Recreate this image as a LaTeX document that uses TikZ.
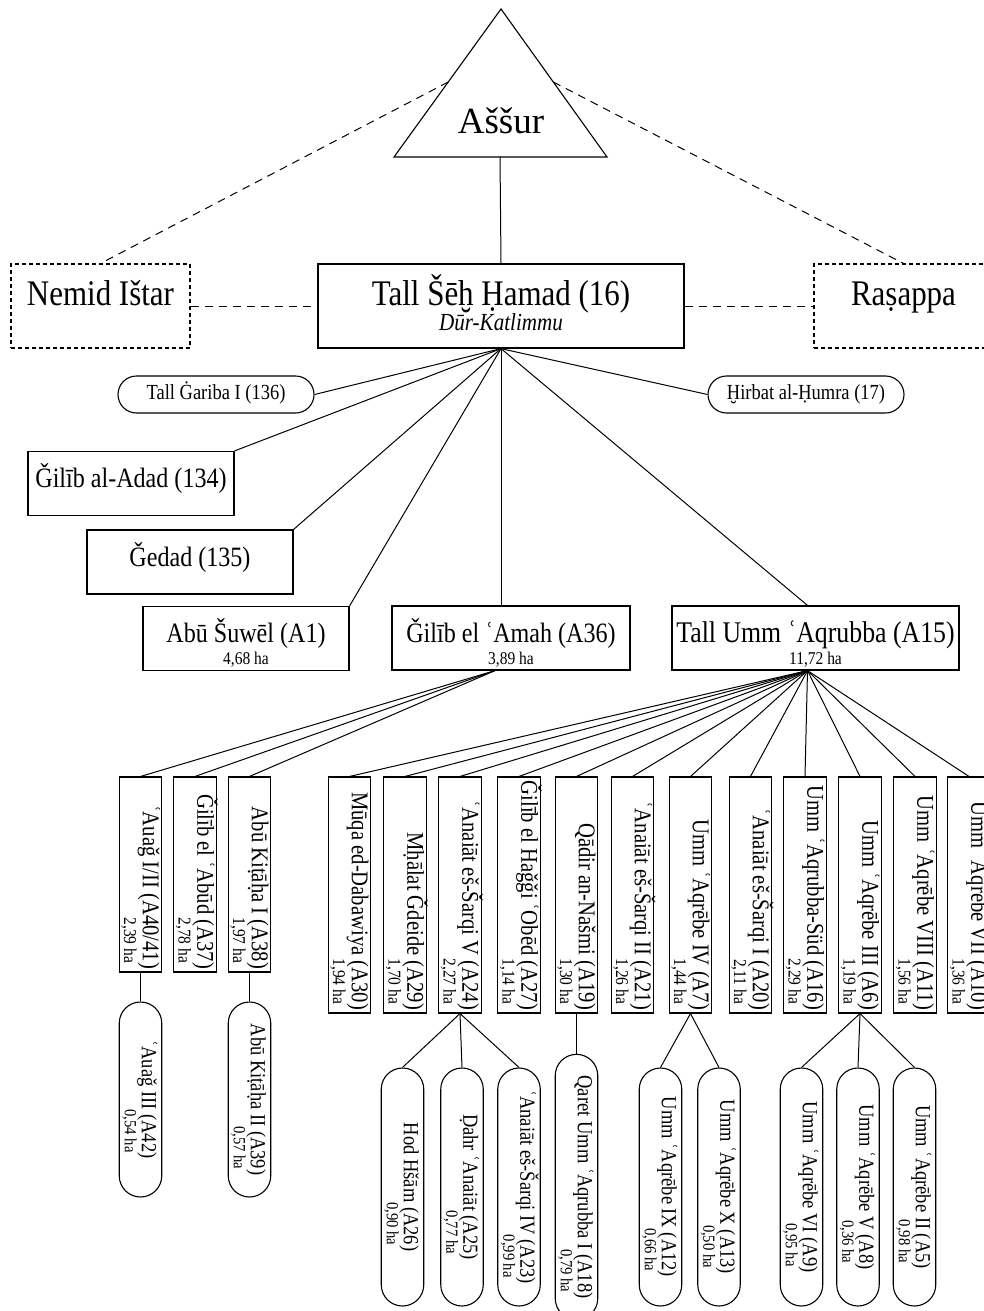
\documentclass[tikz,border=0pt]{standalone}
\usepackage{fontspec}
\setmainfont{Liberation Serif}[FakeStretch=0.86]
\newfontfamily\plainserif{Liberation Serif}
\usetikzlibrary{shapes.misc, calc}
\setlength{\lineskiplimit}{-100pt}
\newcommand{\hect}[1]{{\fontsize{18}{15}\selectfont #1 ha}}
\newcommand{\posthect}[1]{{\fontsize{17}{17}\selectfont #1 ha}}
\newcommand{\site}[2]{\makebox[0pt][r]{#1}\\\hect{#2}\kern6pt}
\newcommand{\outsite}[2]{#1\\\posthect{#2}\kern6pt}
\tikzstyle{capital}=[rectangle, draw, line width=1.2pt, minimum width=366pt, minimum height=84pt, inner sep=0pt, align=center, text height=66pt, text depth=18pt, font=\fontsize{36}{25}\selectfont]
\tikzstyle{province}=[rectangle, draw, line width=1.1pt, dash pattern=on 4pt off 3pt, minimum width=179pt, minimum height=84pt, inner sep=0pt, text height=41pt, text depth=43pt, font=\fontsize{36}{25}\selectfont]
\tikzstyle{town}=[rectangle, draw, line width=1.2pt, minimum width=206pt, minimum height=64pt, inner sep=0pt, align=center, text height=36pt, text depth=28pt, font=\fontsize{28}{22}\selectfont]
\tikzstyle{bigtown}=[town, text height=58pt, text depth=6pt]
\tikzstyle{hamlet}=[rounded rectangle, draw, line width=1.1pt, minimum width=196pt, minimum height=37pt, inner sep=0pt, text height=23pt, text depth=14pt, font=\fontsize{21.5}{15}\selectfont]
\tikzstyle{tell}=[rectangle, draw, rotate=-90, line width=1.1pt, minimum height=42.5pt, inner xsep=3pt, inner ysep=0pt, align=flush right, text height=19pt, text depth=23.5pt, font=\fontsize{24}{15}\selectfont]
\tikzstyle{longtell}=[tell, text width=230pt]
\tikzstyle{shorttell}=[tell, text width=189pt]
\tikzstyle{outpost}=[rounded rectangle, draw, rotate=-90, line width=1.1pt, minimum height=42.5pt, inner sep=0pt, align=flush right, text height=37pt, text depth=5.5pt, font=\fontsize{21.5}{17}\selectfont]
\tikzstyle{longpost}=[outpost, minimum width=238pt]
\tikzstyle{shortpost}=[outpost, minimum width=195pt]
\tikzstyle{link}=[line width=1pt]
\tikzstyle{vague}=[line width=1pt, dash pattern=on 8pt off 6pt]
\begin{document}
\begin{tikzpicture}[x=1pt, y=-1pt]
	\useasboundingbox (0,0) rectangle (984,1311);

	% Assur on top
	\coordinate (apex) at (501,9);
	\coordinate (baseleft) at (394,157);
	\coordinate (baseright) at (607,157);
	\coordinate (assurbase) at (500,157);
	\draw[line width=1.1pt] (apex) -- (baseleft) -- (baseright) -- cycle;
	\node (assur) at (501,121) [font=\plainserif\fontsize{37}{40}\selectfont] {Aššur};

	\node[capital] (katlimmu) at (501,306) {Tall Šēḫ Ḥamad (16)\\{\fontsize{24.5}{25}\selectfont\itshape Dūr-Katlimmu}};
	\node[province] (nemid) at (100.5,306) {Nemid Ištar};
	\node[province] (rasappa) at (903.5,306) {Raṣappa};

	\path (216,394.5) node[hamlet] (gariba) {Tall Ġariba I (136)}
		(806,394.5) node[hamlet] (hirbat) {Ḫirbat al-Ḥumra (17)}
		(131,483.5) node[town] (adad) {Ǧilīb al-Adad (134)}
		(190,562) node[town] (gedad) {Ǧedad (135)}
		(246,638.5) node[bigtown] (suwel) {Abū Šuwēl (A1)\\\hect{4,68}}
		(511,638) node[bigtown, minimum width=238pt] (amah) {Ǧilīb el ʿAmah (A36)\\\hect{3,89}}
		(815.5,638) node[bigtown, minimum width=287pt, font=\fontsize{30}{22}\selectfont] (aqrubba) {Tall Umm ʿAqrubba (A15)\\\hect{11,72}};

	% sites of Gilib el Amah
	\path (140.5,874.5) node[shorttell] (auag) {\site{ʿAuaǧ I/II (A40/41)}{2,39}}
		(195,874.5) node[shorttell] (abud) {\site{Ǧilīb el ʿAbūd (A37)}{2,78}}
		(249.5,874.5) node[shorttell] (kitahaI) {\site{Abū Kiṭāḥa I (A38)}{1,97}};

	% sites of Tall Umm Aqrubba
	\path (349.5,895) node[longtell] (muqa) {\site{Mūqa ed-Dabawiya (A30)}{1,94}}
		(405,895) node[longtell] (mhalat) {\site{Mḥālat Ǧdeide (A29)}{1,70}}
		(460,895) node[longtell] (anaiatV) {\site{ʿAnaiāt eš-Šarqi V (A24)}{2,27}}
		(519,895) node[longtell] (haggi) {\site{Ǧilīb el Haǧǧi ʿObēd (A27)}{1,14}}
		(576.5,895) node[longtell] (qadir) {\site{Qādir an-Našmi (A19)}{1,30}}
		(632.5,895) node[longtell] (anaiatII) {\site{ʿAnaiāt eš-Šarqi II (A21)}{1,26}}
		(690.5,895) node[longtell] (aqrebeIV) {\site{Umm ʿAqrēbe IV (A7)}{1,44}}
		(750.5,895) node[longtell] (anaiatI) {\site{ʿAnaiāt eš-Šarqi I (A20)}{2,11}}
		(805,895) node[longtell] (aqrsud) {\site{Umm ʿAqrubba-Süd (A16)}{2,29}}
		(860,895) node[longtell] (aqrebeIII) {\site{Umm ʿAqrēbe III (A6)}{1,19}}
		(915,895) node[longtell] (aqrebeVIII) {\site{Umm ʿAqrēbe VIII (A11)}{1,56}}
		(969,895) node[longtell] (aqrebeVII) {\site{Umm ʿAqrēbe VII (A10)}{1,36}};

	% outlying sites
	\path (140.5,1099.5) node[shortpost] (auagIII) {\outsite{ʿAuaǧ III (A42)}{0,54}}
		(249.5,1099.5) node[shortpost] (kitahaII) {\outsite{Abū Kiṭāḥa II (A39)}{0,57}}
		(402.5,1187) node[longpost] (hod) {\outsite{Hod Hšām (A26)}{0,90}}
		(462,1187) node[longpost] (dahr) {\outsite{Ḍahr ʿAnaiāt (A25)}{0,77}}
		(519,1187) node[longpost] (anaiatIV) {\outsite{ʿAnaiāt eš-Šarqi IV (A23)}{0,99}}
		(576.5,1187) node[longpost] (qaret) {\outsite{Qaret Umm ʿAqrubba I (A18)}{0,79}}
		(660.5,1187) node[longpost] (aqrebeIX) {\outsite{Umm ʿAqrēbe IX (A12)}{0,66}}
		(719,1187) node[longpost] (aqrebeX) {\outsite{Umm ʿAqrēbe X (A13)}{0,50}}
		(801.5,1187) node[longpost] (aqrebeVI) {\outsite{Umm ʿAqrēbe VI (A9)}{0,95}}
		(858,1187) node[longpost] (aqrebeV) {\outsite{Umm ʿAqrēbe V (A8)}{0,36}}
		(914.5,1187) node[longpost] (aqrebeII) {\outsite{Umm ʿAqrēbe II (A5)}{0,98}};

	% connections
	\draw[link] (assurbase) -- (katlimmu.north);
	\draw[vague] ($(apex)!0.493!(baseleft)$) -- (nemid.north);
	\draw[vague] ($(apex)!0.493!(baseright)$) -- (rasappa.north);
	\draw[vague] (nemid) -- (katlimmu) -- (rasappa);
	\draw[link] (katlimmu.south) -- (gariba.east);
	\draw[link] (katlimmu.south) -- (hirbat.west);
	\draw[link] (katlimmu.south) -- (adad.north east);
	\draw[link] (katlimmu.south) -- (gedad.north east);
	\draw[link] (katlimmu.south) -- (suwel.north east);
	\draw[link] (katlimmu.south) -- (katlimmu.south |- amah.north);
	\draw[link] (katlimmu.south) -- ($(aqrubba.north)+(-8,0)$);

	\coordinate (amahfan) at ($(amah.south)+(-16,0)$);
	\coordinate (aqfan) at ($(aqrubba.south)+(-8,0)$);
	\foreach \s in {auag, abud, kitahaI}
		\draw[link] (amahfan) -- (\s.west);
	\foreach \s in {muqa, mhalat, anaiatV, haggi, qadir, anaiatII, aqrebeIV, anaiatI, aqrsud, aqrebeIII, aqrebeVIII, aqrebeVII}
		\draw[link] (aqfan) -- (\s.west);

	\draw[link] (auag.east) -- (auagIII.west);
	\draw[link] (kitahaI.east) -- (kitahaII.west);
	\draw[link] (qadir.east) -- (qaret.west);
	\foreach \s in {hod, dahr, anaiatIV}
		\draw[link] (anaiatV.east) -- (\s.west);
	\foreach \s in {aqrebeIX, aqrebeX}
		\draw[link] (aqrebeIV.east) -- (\s.west);
	\foreach \s in {aqrebeVI, aqrebeV, aqrebeII}
		\draw[link] (aqrebeIII.east) -- (\s.west);
\end{tikzpicture}
\end{document}
